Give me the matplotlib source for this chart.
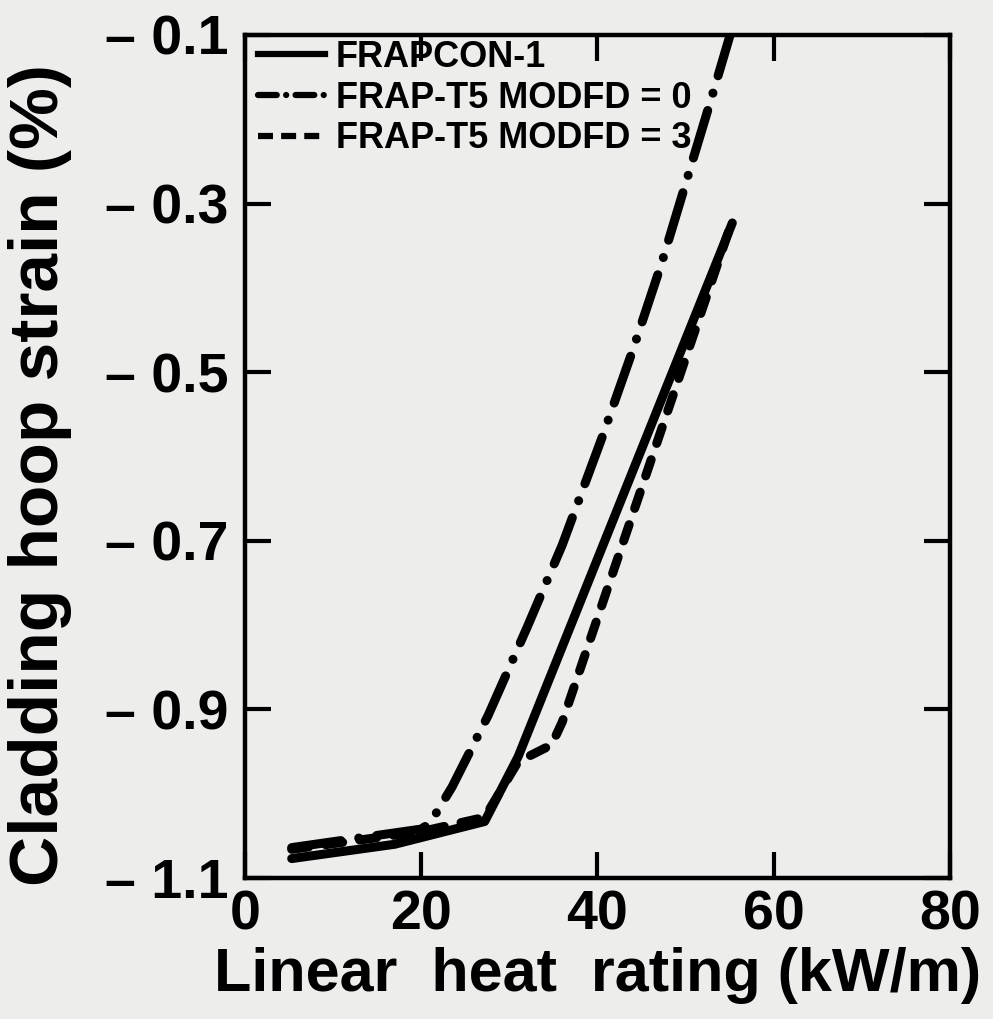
import matplotlib.pyplot as plt
from matplotlib.lines import Line2D

plt.rcParams['font.family'] = ['Liberation Sans', 'DejaVu Sans']
plt.rcParams['font.weight'] = 'bold'

# values
frapcon_x = [5.3, 17.0, 27.2, 31.0, 55.3]
frapcon_y = [-1.077, -1.060, -1.033, -0.956, -0.323]

modfd0_x = [5.3, 20.0, 21.0, 23.5, 27.6, 32.0, 36.0, 40.5, 44.0, 47.3, 53.1, 55.05]
modfd0_y = [-1.064, -1.042, -1.035, -0.992, -0.907, -0.803, -0.705, -0.578, -0.474, -0.370, -0.169, -0.100]

modfd3_x = [5.3, 20.0, 27.2, 31.0, 34.8, 36.0, 55.3]
modfd3_y = [-1.066, -1.045, -1.028, -0.962, -0.942, -0.915, -0.320]

labels = ['FRAPCON-1', 'FRAP-T5 MODFD = 0', 'FRAP-T5 MODFD = 3']
xticks = [0, 20, 40, 60, 80]
yticks = [-0.1, -0.3, -0.5, -0.7, -0.9, -1.1]

bg = '#ededeb'
fig = plt.figure(figsize=(9.93, 10.19), dpi=100, facecolor=bg)
ax = fig.add_axes([0.2467, 0.1384, 0.7100, 0.8273])
ax.set_facecolor(bg)

lw = 6.5
ax.plot(frapcon_x, frapcon_y, color='black', lw=lw, solid_capstyle='round', solid_joinstyle='round')
ax.plot(modfd0_x, modfd0_y, color='black', lw=lw, dashes=(5.5, 2.0, 0.01, 2.0), dash_capstyle='round')
ax.plot(modfd3_x, modfd3_y, color='black', lw=lw, dashes=(1.9, 1.9), dash_capstyle='round')

ax.set_xlim(0, 80)
ax.set_ylim(-1.1, -0.1)
ax.set_xticks(xticks)
ax.set_xticklabels([str(v) for v in xticks])
ax.set_yticks(yticks)
ax.set_yticklabels(['\u2013 %.1f' % abs(v) for v in yticks])
ax.tick_params(direction='in', length=19, width=3, top=True, right=True, colors='black')
ax.tick_params(axis='x', labelsize=40, pad=8)
ax.tick_params(axis='y', labelsize=40, pad=12)
for s in ax.spines.values():
    s.set_linewidth(3.2)

ax.set_xlabel('Linear  heat  rating (kW/m)', fontsize=44, fontweight='bold', labelpad=4)
ax.set_ylabel('Cladding hoop strain (%)', fontsize=50, fontweight='bold')
ax.yaxis.set_label_coords(-0.245, 0.478)

# legend keys drawn short like the original
handles = [
    Line2D([], [], color='black', lw=4.5),
    Line2D([], [], color='black', lw=4.5, dashes=(3.0, 1.5, 0.01, 1.5), dash_capstyle='round'),
    Line2D([], [], color='black', lw=4.5, dashes=(2.4, 1.3)),
]
ax.legend(handles, labels, loc='upper left', bbox_to_anchor=(-0.012, 1.02), frameon=False,
          prop={'size': 26, 'weight': 'bold'}, handlelength=1.85, handletextpad=0.3,
          labelspacing=0.16, borderaxespad=0.2)

fig.savefig('out.png', dpi=100, facecolor=bg)
